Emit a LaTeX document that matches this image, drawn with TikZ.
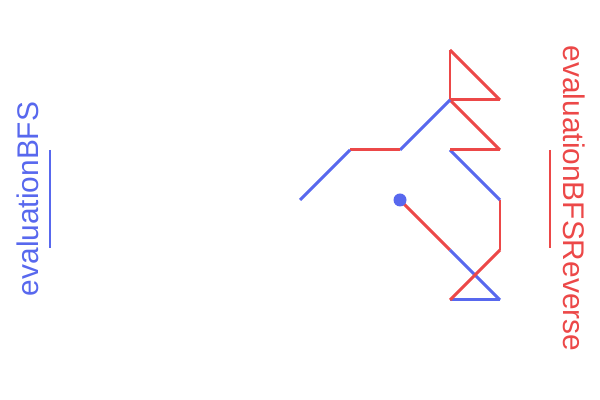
\documentclass[tikz,border=0pt]{standalone}
\usepackage{fontspec}
\setmainfont{Liberation Sans}
\usepackage{xcolor}
\usetikzlibrary{positioning}
\definecolor{bfsblue}{RGB}{88,104,238}
\definecolor{bfsred}{RGB}{236,72,72}

\begin{document}
\begin{tikzpicture}[
      fwd/.style={draw=bfsblue, line width=1.7pt},
      rev/.style={draw=bfsred, line width=1.7pt},
      legendtext/.style={inner sep=0pt, font=\fontsize{17}{20}\selectfont},
    ]
    \useasboundingbox (0,0) rectangle (12,8);

    \coordinate (start) at (8,4);
    \coordinate (s1) at (9,3);
    \coordinate (s2) at (10,2);
    \coordinate (s3) at (9,2);
    \coordinate (s4) at (10,3);
    \coordinate (s5) at (10,4);
    \coordinate (s6) at (9,5);
    \coordinate (s7) at (10,5);
    \coordinate (s8) at (9,6);
    \coordinate (s9) at (10,6);
    \coordinate (s10) at (9,7);
    \coordinate (s11) at (8,5);
    \coordinate (s12) at (7,5);
    \coordinate (goal) at (6,4);

    \draw[rev] (start) -- (s1);
    \draw[fwd] (s1) -- (s2);
    \draw[fwd] (s2) -- (s3);
    \draw[rev] (s3) -- (s4);
    \draw[rev] (s4) -- (s5);
    \draw[fwd] (s5) -- (s6);
    \draw[rev] (s6) -- (s7);
    \draw[rev] (s7) -- (s8);
    \draw[rev] (s8) -- (s9);
    \draw[rev] (s9) -- (s10);
    \draw[rev] (s10) -- (s8);
    \draw[fwd] (s8) -- (s11);
    \draw[rev] (s11) -- (s12);
    \draw[fwd] (s12) -- (goal);
    \fill[bfsblue] (start) circle (0.13);

    \node[legendtext, text=bfsblue, rotate=90] (bfslabel) at (0.56,4.02) {evaluationBFS};
    \coordinate (bfstop) at (1,5);
    \coordinate (bfsbot) at (1,3.04);
    \draw[fwd] (bfstop) -- (bfsbot);

    \node[legendtext, text=bfsred, rotate=-90] (revlabel) at (11.48,4.03) {evaluationBFSReverse};
    \coordinate (revtop) at (11,5);
    \coordinate (revbot) at (11,3.04);
    \draw[rev] (revtop) -- (revbot);
  \end{tikzpicture}
\end{document}
